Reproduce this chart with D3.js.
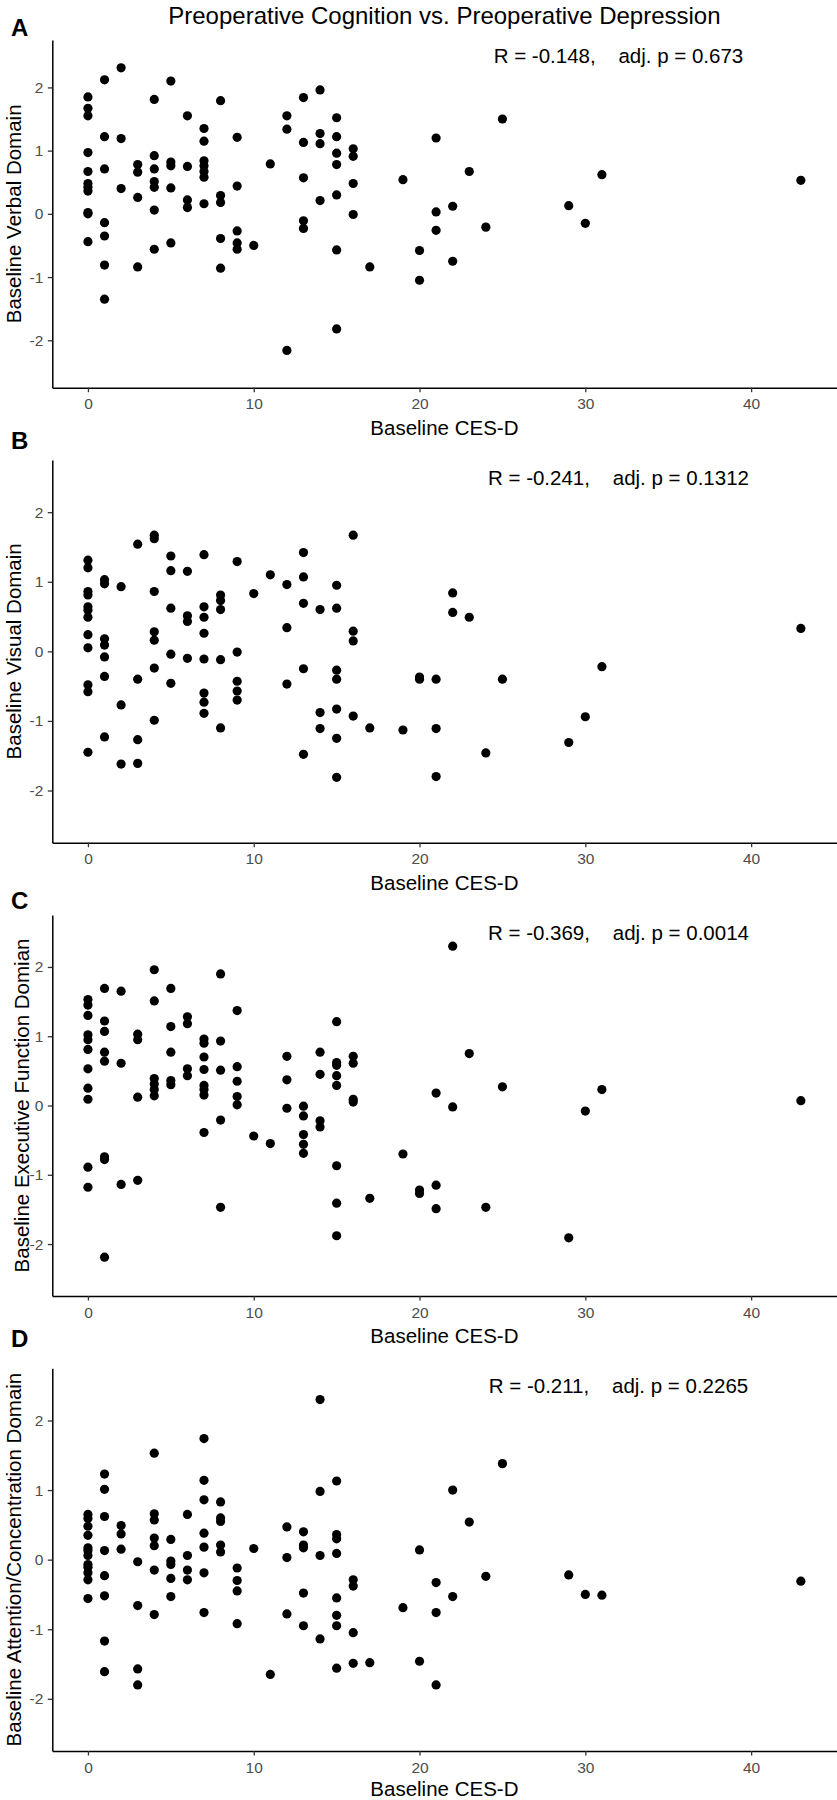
<!DOCTYPE html>
<html>
<head>
<meta charset="utf-8">
<script src="https://cdn.jsdelivr.net/npm/d3@7"></script>
<style>
  html, body { margin: 0; padding: 0; background: #fff; }
  svg { display: block; font-family: "Liberation Sans", Arial, sans-serif; }
</style>
</head>
<body>
<svg id="chart" width="837" height="1800"></svg>
<script>
// ---------------- DATA ----------------
const chartTitle = "Preoperative Cognition vs. Preoperative Depression";
const xTitle = "Baseline CES-D";
const xTicks = [0, 10, 20, 30, 40];
const yTicks = [-2, -1, 0, 1, 2];
const panelLetters = ["A", "B", "C", "D"];
const yTitles = ["Baseline Verbal Domain", "Baseline Visual Domain",
                 "Baseline Executive Function Domian", "Baseline Attention/Concentration Domain"];
const statLabels = ["R = -0.148,    adj. p = 0.673", "R = -0.241,    adj. p = 0.1312",
                    "R = -0.369,    adj. p = 0.0014", "R = -0.211,    adj. p = 0.2265"];

const cesdA = [0,0,0,0,0,0,0,0,0,0,0, 1,1,1,1,1,1,1, 2,2,2, 3,3,3,3, 4,4,4,4,4,4,4, 5,5,5,5,5, 6,6,6,6,
  7,7,7,7,7,7,7, 8,8,8,8,8, 9,9,9,9,9, 10, 11, 12,12,12, 13,13,13,13,13, 14,14,14,14,
  15,15,15,15,15,15,15, 16,16,16,16, 17, 19, 20,20, 21,21,21, 22,22, 23, 24, 25, 29, 30, 31, 43];
const verbal = [1.85,1.67,1.55,0.97,0.67,0.48,0.42,0.36,0.02,0.00,-0.44, 2.12,1.22,0.71,-0.14,-0.35,-0.81,-1.35,
  2.31,1.19,0.40, 0.78,0.66,0.26,-0.84, 1.81,0.92,0.71,0.51,0.42,0.06,-0.56, 2.10,0.82,0.76,0.41,-0.46,
  1.55,0.75,0.22,0.10, 1.35,1.15,0.84,0.76,0.67,0.58,0.16, 1.79,0.29,0.18,-0.39,-0.86, 1.21,0.44,-0.27,-0.46,-0.56,
  -0.50, 0.79, 1.55,1.34,-2.16, 1.84,1.13,0.57,-0.11,-0.23, 1.96,1.27,1.11,0.21,
  1.52,1.22,0.96,0.78,0.30,-0.57,-1.82, 1.03,0.91,0.48,-0.01, -0.84, 0.54, -0.58,-1.05, 1.20,0.03,-0.26,
  0.12,-0.75, 0.67, -0.21, 1.50, 0.13, -0.15, 0.62, 0.53];

const cesdB = [0,0,0,0,0,0,0,0,0,0,0,0, 1,1,1,1,1,1,1, 2,2,2, 3,3,3,3, 4,4,4,4,4,4,4, 5,5,5,5,5, 6,6,6,6,
  7,7,7,7,7,7,7,7, 8,8,8,8,8, 9,9,9,9,9, 10, 11, 12,12,12, 13,13,13,13,13, 14,14,14,
  15,15,15,15,15,15,15, 16,16,16,16, 17, 19, 20,20, 21,21,21, 22,22, 23, 24, 25, 29, 30, 31, 43];
const visual = [1.31,1.20,0.86,0.81,0.64,0.59,0.49,0.24,0.05,-0.48,-0.58,-1.45, 1.03,0.97,0.18,0.09,-0.08,-0.36,-1.23,
  0.93,-0.77,-1.62, 1.54,-0.40,-1.27,-1.61, 1.67,1.62,0.86,0.28,0.16,-0.24,-0.99, 1.37,1.16,0.62,-0.04,-0.46,
  1.15,0.51,0.43,-0.10, 1.39,0.64,0.49,0.26,-0.11,-0.60,-0.73,-0.89, 0.81,0.73,0.60,-0.12,-1.10,
  1.29,-0.01,-0.43,-0.57,-0.70, 0.83, 1.10, 0.96,0.34,-0.47, 1.42,1.07,0.69,-0.25,-1.48, 0.60,-0.88,-1.11,
  0.95,0.62,-0.27,-0.40,-0.83,-1.25,-1.81, 1.67,0.29,0.15,-0.93, -1.10, -1.13, -0.37,-0.40, -0.40,-1.11,-1.80,
  0.84,0.56, 0.49, -1.46, -0.40, -1.31, -0.94, -0.22, 0.33];

const cesdC = [0,0,0,0,0,0,0,0,0,0,0, 1,1,1,1,1,1,1,1, 2,2,2, 3,3,3,3, 4,4,4,4,4,4, 5,5,5,5,5, 6,6,6,6,
  7,7,7,7,7,7,7,7, 8,8,8,8,8, 9,9,9,9,9, 10, 11, 12,12,12, 13,13,13,13,13, 14,14,14,14,
  15,15,15,15,15,15,15,15, 16,16,16,16, 17, 19, 20,20, 21,21,21, 22,22, 23, 24, 25, 29, 30, 31, 43];
const executive = [1.53,1.45,1.30,1.02,0.95,0.81,0.53,0.25,0.09,-0.89,-1.18, 1.69,1.22,1.07,0.77,0.64,-0.74,-0.78,-2.19,
  1.65,0.61,-1.14, 1.03,0.95,0.12,-1.08, 1.96,1.51,0.39,0.31,0.23,0.14, 1.69,1.14,0.77,0.36,0.30,
  1.28,1.18,0.53,0.43, 0.96,0.90,0.70,0.52,0.29,0.23,0.15,-0.39, 1.90,0.93,0.51,-0.21,-1.47,
  1.37,0.56,0.35,0.13,0.01, -0.44, -0.55, 0.71,0.37,-0.04, -0.01,-0.15,-0.42,-0.56,-0.69, 0.77,0.45,-0.22,-0.31,
  1.21,0.62,0.58,0.43,0.29,-0.87,-1.41,-1.88, 0.71,0.61,0.09,0.05, -1.34, -0.70, -1.22,-1.27, 0.18,-1.15,-1.49,
  2.30,-0.02, 0.75, -1.47, 0.27, -1.91, -0.08, 0.23, 0.07];

const cesdD = [0,0,0,0,0,0,0,0,0,0,0,0, 1,1,1,1,1,1,1,1, 2,2,2, 3,3,3,3, 4,4,4,4,4,4,4, 5,5,5,5,5, 6,6,6,6,
  7,7,7,7,7,7,7, 8,8,8,8,8, 9,9,9,9, 10, 11, 12,12,12, 13,13,13,13,13, 14,14,14,14,
  15,15,15,15,15,15,15,15, 16,16,16,16, 17, 19, 20,20, 21,21,21, 22,22, 23, 24, 25, 29, 30, 31, 43];
const attention = [0.65,0.59,0.48,0.35,0.17,0.13,0.06,-0.07,-0.11,-0.19,-0.29,-0.56, 1.23,1.01,0.62,0.13,-0.23,-0.52,-1.17,-1.61,
  0.49,0.37,0.15, -0.03,-0.66,-1.57,-1.80, 1.53,0.66,0.57,0.31,0.20,-0.15,-0.79, 0.29,-0.02,-0.07,-0.27,-0.53,
  0.65,0.06,-0.15,-0.29, 1.74,1.14,0.86,0.38,0.18,-0.19,-0.76, 0.83,0.60,0.55,0.21,0.11,
  -0.12,-0.30,-0.45,-0.92, 0.16, -1.65, 0.47,0.03,-0.78, 0.40,0.21,0.17,-0.48,-0.95, 2.30,0.98,0.06,-1.14,
  1.13,0.36,0.30,0.09,-0.55,-0.80,-0.95,-1.56, -0.29,-0.38,-1.05,-1.49, -1.48, -0.69, 0.14,-1.46, -0.33,-0.76,-1.80,
  1.00,-0.53, 0.54, -0.24, 1.38, -0.22, -0.50, -0.51, -0.31];

const xValues = [cesdA, cesdB, cesdC, cesdD];
const yValues = [verbal, visual, executive, attention];

// ---------------- LAYOUT ----------------
const layout = [
  { top: 40,    bottom: 387.7, letterY: 36,   yTitleX: 20.5, xTitleOff: 47 },
  { top: 460,   bottom: 842.7, letterY: 449,  yTitleX: 20.5, xTitleOff: 47 },
  { top: 915,   bottom: 1296,  letterY: 909,  yTitleX: 29,   xTitleOff: 47 },
  { top: 1368.3, bottom: 1751, letterY: 1347, yTitleX: 20.5, xTitleOff: 45 }
];
const plotLeft = 52.3, plotRight = 836.5;
const fontFam = '"Liberation Sans", Arial, sans-serif';
const fmt = d => String(d);

const svg = d3.select("#chart");

const x = d3.scaleLinear().domain([-2.15, 45.15]).range([plotLeft, plotRight]);

svg.append("text")
  .attr("x", (plotLeft + plotRight) / 2).attr("y", 24)
  .attr("text-anchor", "middle")
  .style("font-size", "24px").style("fill", "#000")
  .text(chartTitle);

layout.forEach((L, i) => {
  const y = d3.scaleLinear().domain([-2.75, 2.75]).range([L.bottom, L.top]);
  const g = svg.append("g");

  const gx = g.append("g")
    .attr("transform", `translate(0,${L.bottom})`)
    .call(d3.axisBottom(x).tickValues(xTicks).tickFormat(fmt).tickSize(4.5).tickSizeOuter(0).tickPadding(6));
  const gy = g.append("g")
    .attr("transform", `translate(${plotLeft},0)`)
    .call(d3.axisLeft(y).tickValues(yTicks).tickFormat(fmt).tickSize(4.5).tickSizeOuter(0).tickPadding(4.5));

  [gx, gy].forEach(a => {
    a.attr("font-family", null).attr("font-size", null);
    a.select(".domain").attr("stroke", "#000").attr("stroke-width", 1.5);
    a.selectAll(".tick line").attr("stroke", "#333").attr("stroke-width", 1.3);
    a.selectAll(".tick text").style("font-size", "15.5px").style("font-family", fontFam).attr("fill", "#4d4d4d");
  });

  g.append("g").selectAll("circle")
    .data(d3.zip(xValues[i], yValues[i]))
    .join("circle")
    .attr("cx", d => x(d[0]))
    .attr("cy", d => y(d[1]))
    .attr("r", 4.6)
    .attr("fill", "#000");

  g.append("text")
    .attr("x", x(32)).attr("y", y(2.5))
    .attr("dy", "0.36em")
    .attr("text-anchor", "middle")
    .style("font-size", "20.5px").style("white-space", "pre").style("fill", "#000")
    .text(statLabels[i]);

  g.append("text")
    .attr("x", (plotLeft + plotRight) / 2).attr("y", L.bottom + L.xTitleOff)
    .attr("text-anchor", "middle")
    .style("font-size", "20.5px").style("fill", "#000")
    .text(xTitle);

  g.append("text")
    .attr("transform", `translate(${L.yTitleX},${(L.top + L.bottom) / 2}) rotate(-90)`)
    .attr("text-anchor", "middle")
    .style("font-size", "20.5px").style("fill", "#000")
    .text(yTitles[i]);

  g.append("text")
    .attr("x", 11).attr("y", L.letterY)
    .style("font-size", "24px").style("font-weight", "bold").style("fill", "#000")
    .text(panelLetters[i]);
});
</script>
</body>
</html>
